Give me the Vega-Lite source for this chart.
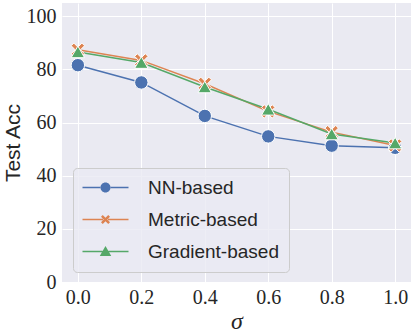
{
  "$schema": "https://vega.github.io/schema/vega-lite/v6.json",
  "width": 349,
  "height": 279,
  "autosize": {"type": "none"},
  "padding": {"left": 62, "top": 3, "right": 4, "bottom": 50},
  "background": "white",
  "config": {
    "view": {"fill": "#EAEAF2", "stroke": null},
    "axis": {
      "domain": false,
      "ticks": false,
      "grid": true,
      "gridColor": "white",
      "gridWidth": 1,
      "labelFont": "Liberation Serif",
      "labelFontSize": 20,
      "labelColor": "#262626",
      "titleColor": "#262626",
      "titleFontWeight": "normal"
    }
  },
  "data": {
    "values": [
      {"sigma": 0.0, "acc": 81.6, "method": "NN-based"},
      {"sigma": 0.2, "acc": 75.1, "method": "NN-based"},
      {"sigma": 0.4, "acc": 62.5, "method": "NN-based"},
      {"sigma": 0.6, "acc": 54.8, "method": "NN-based"},
      {"sigma": 0.8, "acc": 51.3, "method": "NN-based"},
      {"sigma": 1.0, "acc": 50.5, "method": "NN-based"},
      {"sigma": 0.0, "acc": 87.4, "method": "Metric-based"},
      {"sigma": 0.2, "acc": 83.4, "method": "Metric-based"},
      {"sigma": 0.4, "acc": 74.6, "method": "Metric-based"},
      {"sigma": 0.6, "acc": 64.2, "method": "Metric-based"},
      {"sigma": 0.8, "acc": 56.4, "method": "Metric-based"},
      {"sigma": 1.0, "acc": 51.4, "method": "Metric-based"},
      {"sigma": 0.0, "acc": 86.6, "method": "Gradient-based"},
      {"sigma": 0.2, "acc": 82.6, "method": "Gradient-based"},
      {"sigma": 0.4, "acc": 73.4, "method": "Gradient-based"},
      {"sigma": 0.6, "acc": 65.0, "method": "Gradient-based"},
      {"sigma": 0.8, "acc": 55.7, "method": "Gradient-based"},
      {"sigma": 1.0, "acc": 52.3, "method": "Gradient-based"}
    ]
  },
  "encoding": {
    "x": {
      "field": "sigma",
      "type": "quantitative",
      "scale": {"domain": [-0.05, 1.05], "nice": false, "zero": false},
      "axis": {
        "values": [0, 0.2, 0.4, 0.6, 0.8, 1.0],
        "format": ".1f",
        "labelPadding": 5,
        "title": "σ",
        "titleFont": "Liberation Serif",
        "titleFontStyle": "italic",
        "titleFontSize": 24,
        "titlePadding": 2
      }
    },
    "y": {
      "field": "acc",
      "type": "quantitative",
      "scale": {"domain": [0, 105], "nice": false},
      "axis": {
        "values": [0, 20, 40, 60, 80, 100],
        "labelPadding": 6,
        "title": "Test Acc",
        "titleFont": "Liberation Sans",
        "titleFontSize": 21,
        "titlePadding": 3
      }
    },
    "color": {
      "field": "method",
      "type": "nominal",
      "scale": {
        "domain": ["NN-based", "Metric-based", "Gradient-based"],
        "range": ["#4C72B0", "#DD8452", "#55A868"]
      },
      "legend": {
        "title": null,
        "orient": "none",
        "legendX": 11,
        "legendY": 165,
        "padding": 10,
        "fillColor": "rgba(234,234,242,0.8)",
        "strokeColor": "#cccccc",
        "cornerRadius": 4,
        "symbolSize": 100,
        "symbolOffset": 13,
        "symbolStrokeWidth": 0,
        "labelOffset": 33,
        "labelFont": "Liberation Sans",
        "labelFontSize": 19,
        "labelColor": "#262626",
        "rowPadding": 12
      }
    }
  },
  "layer": [
    {
      "mark": {"type": "line", "strokeWidth": 1.5}
    },
    {
      "transform": [{"filter": "datum.method === 'NN-based'"}],
      "mark": {"type": "point", "shape": "circle", "filled": true, "opacity": 1, "size": 180, "stroke": "white", "strokeWidth": 1}
    },
    {
      "transform": [{"filter": "datum.method === 'Metric-based'"}],
      "mark": {"type": "point", "shape": "M-1,-0.6L-0.6,-1L0,-0.4L0.6,-1L1,-0.6L0.4,0L1,0.6L0.6,1L0,0.4L-0.6,1L-1,0.6L-0.4,0Z", "filled": true, "opacity": 1, "size": 180, "stroke": "white", "strokeWidth": 1}
    },
    {
      "transform": [{"filter": "datum.method === 'Gradient-based'"}],
      "mark": {"type": "point", "shape": "triangle-up", "filled": true, "opacity": 1, "size": 180, "stroke": "white", "strokeWidth": 1}
    },
    {
      "transform": [{"filter": "datum.acc < 0"}],
      "mark": {"type": "point", "filled": true, "opacity": 1},
      "encoding": {
        "shape": {
          "field": "method",
          "type": "nominal",
          "scale": {
            "domain": ["NN-based", "Metric-based", "Gradient-based"],
            "range": [
              "M-4.6,-0.15H-0.95V0.15H-4.6Z M0.95,-0.15H4.6V0.15H0.95Z M-1,0A1,1,0,1,0,1,0A1,1,0,1,0,-1,0Z",
              "M-4.6,-0.15H-0.5V0.15H-4.6Z M0.5,-0.15H4.6V0.15H0.5Z M-0.9,-0.55L-0.55,-0.9L0,-0.35L0.55,-0.9L0.9,-0.55L0.35,0L0.9,0.55L0.55,0.9L0,0.35L-0.55,0.9L-0.9,0.55L-0.35,0Z",
              "M-4.6,-0.15H-0.6V0.15H-4.6Z M0.6,-0.15H4.6V0.15H0.6Z M0,-1.1L1.15,0.9L-1.15,0.9Z"
            ]
          },
          "legend": null
        }
      }
    }
  ]
}
